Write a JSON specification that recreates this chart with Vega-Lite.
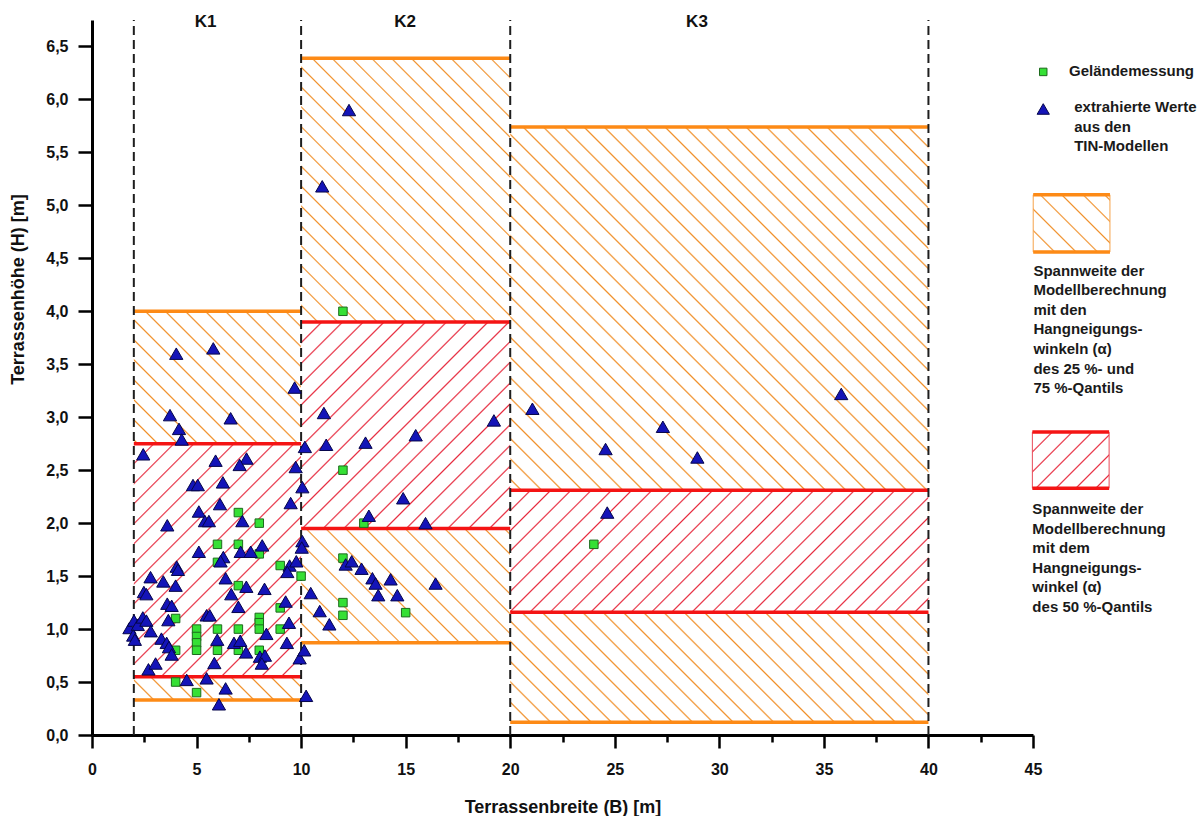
{
"$schema":"https://vega.github.io/schema/vega-lite/v6.json",
"width":941,"height":715,
"autosize":{"type":"none"},
"padding":{"left":92,"top":20,"right":170,"bottom":81},
"background":"white",
"config":{"view":{"stroke":null},"axis":{"grid":false}},
"datasets":{
"boxes":[
{"id":"K1o","col":"o","x":2,"x2":10,"y":0.33,"y2":4.0},
{"id":"K2o","col":"o","x":10,"x2":20,"y":0.87,"y2":6.39},
{"id":"K3o","col":"o","x":20,"x2":40,"y":0.12,"y2":5.74},
{"id":"K1r","col":"r","x":2,"x2":10,"y":0.55,"y2":2.75},
{"id":"K2r","col":"r","x":10,"x2":20,"y":1.95,"y2":3.9},
{"id":"K3r","col":"r","x":20,"x2":40,"y":1.16,"y2":2.31},
{"id":"Lo","col":"o","x":45.01,"x2":48.68,"y":4.56,"y2":5.1},
{"id":"Lr","col":"r","x":44.97,"x2":48.64,"y":2.33,"y2":2.86}
],
"bounds":[{"x":2},{"x":10},{"x":20},{"x":40}],
"klabels":[{"t":"K1","x":5.43},{"t":"K2","x":14.97},{"t":"K3","x":28.93}],
"pts":[
{"k":"s","x":7,"y":2.1},{"k":"s","x":8,"y":2.0},{"k":"s","x":6,"y":1.8},{"k":"s","x":7,"y":1.8},{"k":"s","x":8,"y":1.71},{"k":"s","x":6,"y":1.63},{"k":"s","x":9,"y":1.6},{"k":"s","x":10,"y":1.5},{"k":"s","x":7,"y":1.41},{"k":"s","x":9,"y":1.2},{"k":"s","x":4,"y":1.1},{"k":"s","x":4,"y":0.8},{"k":"s","x":4,"y":0.5},{"k":"s","x":5,"y":1.0},{"k":"s","x":5,"y":0.93},{"k":"s","x":5,"y":0.87},{"k":"s","x":5,"y":0.8},{"k":"s","x":5,"y":0.4},{"k":"s","x":6,"y":1.0},{"k":"s","x":6,"y":0.8},{"k":"s","x":7,"y":1.0},{"k":"s","x":7,"y":0.8},{"k":"s","x":8,"y":1.11},{"k":"s","x":8,"y":1.06},{"k":"s","x":8,"y":1.0},{"k":"s","x":8,"y":0.8},{"k":"s","x":9,"y":1.0},
{"k":"s","x":12,"y":4.0},{"k":"s","x":12,"y":2.5},{"k":"s","x":13,"y":2.0},{"k":"s","x":12,"y":1.67},{"k":"s","x":12,"y":1.25},{"k":"s","x":12,"y":1.13},{"k":"s","x":15,"y":1.155},{"k":"s","x":24,"y":1.8},
{"k":"t","x":4.03,"y":3.6},{"k":"t","x":5.8,"y":3.65},{"k":"t","x":9.69,"y":3.28},{"k":"t","x":3.73,"y":3.02},{"k":"t","x":6.63,"y":2.99},{"k":"t","x":4.16,"y":2.89},{"k":"t","x":4.29,"y":2.79},{"k":"t","x":10.18,"y":2.72},{"k":"t","x":2.45,"y":2.65},{"k":"t","x":5.91,"y":2.59},{"k":"t","x":7.39,"y":2.61},{"k":"t","x":7.06,"y":2.55},{"k":"t","x":9.74,"y":2.53},{"k":"t","x":10.06,"y":2.34},{"k":"t","x":6.26,"y":2.385},{"k":"t","x":4.83,"y":2.36},{"k":"t","x":5.06,"y":2.36},{"k":"t","x":6.12,"y":2.18},{"k":"t","x":9.5,"y":2.19},{"k":"t","x":5.11,"y":2.11},{"k":"t","x":5.4,"y":2.02},{"k":"t","x":5.59,"y":2.02},{"k":"t","x":7.19,"y":2.02},{"k":"t","x":3.6,"y":1.98},
{"k":"t","x":10.06,"y":1.83},{"k":"t","x":10.03,"y":1.77},{"k":"t","x":8.14,"y":1.79},{"k":"t","x":5.11,"y":1.73},{"k":"t","x":6.28,"y":1.68},{"k":"t","x":7.11,"y":1.73},{"k":"t","x":7.59,"y":1.73},{"k":"t","x":6.15,"y":1.64},{"k":"t","x":4.05,"y":1.59},{"k":"t","x":4.11,"y":1.56},{"k":"t","x":9.45,"y":1.6},{"k":"t","x":9.34,"y":1.54},{"k":"t","x":9.77,"y":1.64},{"k":"t","x":2.8,"y":1.49},{"k":"t","x":3.41,"y":1.45},{"k":"t","x":4.0,"y":1.41},{"k":"t","x":7.38,"y":1.4},{"k":"t","x":8.25,"y":1.38},{"k":"t","x":6.39,"y":1.48},{"k":"t","x":2.48,"y":1.35},{"k":"t","x":2.6,"y":1.33},{"k":"t","x":6.66,"y":1.33},{"k":"t","x":9.26,"y":1.26},{"k":"t","x":3.6,"y":1.24},{"k":"t","x":3.81,"y":1.22},{"k":"t","x":7.0,"y":1.21},{"k":"t","x":5.48,"y":1.13},{"k":"t","x":5.63,"y":1.13},
{"k":"t","x":1.79,"y":1.01},{"k":"t","x":2.01,"y":1.08},{"k":"t","x":2.19,"y":1.04},{"k":"t","x":2.43,"y":1.11},{"k":"t","x":2.6,"y":1.08},{"k":"t","x":2.81,"y":0.98},{"k":"t","x":1.97,"y":0.94},{"k":"t","x":2.05,"y":0.9},{"k":"t","x":2.7,"y":0.62},{"k":"t","x":3.04,"y":0.675},{"k":"t","x":3.32,"y":0.91},{"k":"t","x":3.57,"y":0.87},{"k":"t","x":3.68,"y":0.83},{"k":"t","x":3.81,"y":0.76},{"k":"t","x":3.65,"y":1.085},{"k":"t","x":4.53,"y":0.52},{"k":"t","x":5.48,"y":0.535},{"k":"t","x":5.99,"y":0.9},{"k":"t","x":5.85,"y":0.68},{"k":"t","x":6.07,"y":0.29},{"k":"t","x":6.39,"y":0.44},{"k":"t","x":6.79,"y":0.87},{"k":"t","x":7.09,"y":0.89},{"k":"t","x":7.37,"y":0.78},{"k":"t","x":8.03,"y":0.74},{"k":"t","x":8.27,"y":0.75},{"k":"t","x":8.12,"y":0.675},{"k":"t","x":8.34,"y":0.955},{"k":"t","x":9.42,"y":1.06},{"k":"t","x":9.32,"y":0.87},{"k":"t","x":9.93,"y":0.725},{"k":"t","x":10.15,"y":0.8},{"k":"t","x":10.24,"y":0.37},{"k":"t","x":10.46,"y":1.34},{"k":"t","x":10.89,"y":1.17},{"k":"t","x":11.35,"y":1.045},
{"k":"t","x":12.29,"y":5.9},{"k":"t","x":11.01,"y":5.18},{"k":"t","x":11.09,"y":3.04},{"k":"t","x":19.22,"y":2.97},{"k":"t","x":11.2,"y":2.74},{"k":"t","x":13.08,"y":2.76},{"k":"t","x":15.48,"y":2.83},{"k":"t","x":14.88,"y":2.235},{"k":"t","x":13.24,"y":2.07},{"k":"t","x":15.95,"y":2.0},{"k":"t","x":12.13,"y":1.61},{"k":"t","x":12.42,"y":1.64},{"k":"t","x":12.89,"y":1.57},{"k":"t","x":13.41,"y":1.48},{"k":"t","x":13.56,"y":1.43},{"k":"t","x":14.28,"y":1.47},{"k":"t","x":16.43,"y":1.43},{"k":"t","x":13.69,"y":1.32},{"k":"t","x":14.6,"y":1.32},
{"k":"t","x":21.06,"y":3.08},{"k":"t","x":35.83,"y":3.22},{"k":"t","x":27.3,"y":2.91},{"k":"t","x":24.56,"y":2.7},{"k":"t","x":28.95,"y":2.62},{"k":"t","x":24.64,"y":2.1}
],
"leg":[{"k":"s","x":45.49,"y":6.26},{"k":"t","x":45.49,"y":5.91}],
"legtext":[
{"x":46.72,"y":6.332,"t":"Geländemessung"},
{"x":46.97,"y":5.992,"t":"extrahierte Werte\naus den\nTIN-Modellen"},
{"x":45.02,"y":4.451,"t":"Spannweite der\nModellberechnung\nmit den\nHangneigungs-\nwinkeln (α)\ndes 25 %- und\n75 %-Qantils"},
{"x":44.97,"y":2.2,"t":"Spannweite der\nModellberechnung\nmit dem\nHangneigungs-\nwinkel (α)\ndes 50 %-Qantils"}
]
},
"layer":[
{"data":{"name":"boxes"},"transform":[{"filter":"datum.id=='K1o'"}],
"mark":{"type":"rect","fill":{"gradient":"linear","x1":0,"y1":1,"x2":0.519,"y2":-0.207,"stops":[
{"offset":0.033,"color":"#fff"},{"offset":0.036,"color":"#f0902a"},{"offset":0.039,"color":"#fff"},
{"offset":0.069,"color":"#fff"},{"offset":0.072,"color":"#f0902a"},{"offset":0.075,"color":"#fff"},
{"offset":0.105,"color":"#fff"},{"offset":0.108,"color":"#f0902a"},{"offset":0.111,"color":"#fff"},
{"offset":0.141,"color":"#fff"},{"offset":0.144,"color":"#f0902a"},{"offset":0.147,"color":"#fff"},
{"offset":0.177,"color":"#fff"},{"offset":0.18,"color":"#f0902a"},{"offset":0.183,"color":"#fff"},
{"offset":0.213,"color":"#fff"},{"offset":0.216,"color":"#f0902a"},{"offset":0.219,"color":"#fff"},
{"offset":0.249,"color":"#fff"},{"offset":0.252,"color":"#f0902a"},{"offset":0.255,"color":"#fff"},
{"offset":0.285,"color":"#fff"},{"offset":0.288,"color":"#f0902a"},{"offset":0.291,"color":"#fff"},
{"offset":0.321,"color":"#fff"},{"offset":0.324,"color":"#f0902a"},{"offset":0.327,"color":"#fff"},
{"offset":0.357,"color":"#fff"},{"offset":0.36,"color":"#f0902a"},{"offset":0.363,"color":"#fff"},
{"offset":0.393,"color":"#fff"},{"offset":0.396,"color":"#f0902a"},{"offset":0.399,"color":"#fff"},
{"offset":0.429,"color":"#fff"},{"offset":0.432,"color":"#f0902a"},{"offset":0.435,"color":"#fff"},
{"offset":0.465,"color":"#fff"},{"offset":0.468,"color":"#f0902a"},{"offset":0.471,"color":"#fff"},
{"offset":0.501,"color":"#fff"},{"offset":0.504,"color":"#f0902a"},{"offset":0.507,"color":"#fff"},
{"offset":0.537,"color":"#fff"},{"offset":0.54,"color":"#f0902a"},{"offset":0.543,"color":"#fff"},
{"offset":0.573,"color":"#fff"},{"offset":0.576,"color":"#f0902a"},{"offset":0.579,"color":"#fff"},
{"offset":0.609,"color":"#fff"},{"offset":0.612,"color":"#f0902a"},{"offset":0.615,"color":"#fff"},
{"offset":0.645,"color":"#fff"},{"offset":0.648,"color":"#f0902a"},{"offset":0.651,"color":"#fff"},
{"offset":0.681,"color":"#fff"},{"offset":0.684,"color":"#f0902a"},{"offset":0.687,"color":"#fff"},
{"offset":0.717,"color":"#fff"},{"offset":0.72,"color":"#f0902a"},{"offset":0.723,"color":"#fff"},
{"offset":0.753,"color":"#fff"},{"offset":0.756,"color":"#f0902a"},{"offset":0.759,"color":"#fff"},
{"offset":0.789,"color":"#fff"},{"offset":0.792,"color":"#f0902a"},{"offset":0.795,"color":"#fff"},
{"offset":0.825,"color":"#fff"},{"offset":0.828,"color":"#f0902a"},{"offset":0.831,"color":"#fff"},
{"offset":0.861,"color":"#fff"},{"offset":0.864,"color":"#f0902a"},{"offset":0.867,"color":"#fff"},
{"offset":0.897,"color":"#fff"},{"offset":0.9,"color":"#f0902a"},{"offset":0.903,"color":"#fff"},
{"offset":0.933,"color":"#fff"},{"offset":0.936,"color":"#f0902a"},{"offset":0.939,"color":"#fff"},
{"offset":0.969,"color":"#fff"},{"offset":0.972,"color":"#f0902a"},{"offset":0.975,"color":"#fff"}
]}},
"encoding":{
"x":{"field":"x","type":"quantitative","scale":{"domain":[0,45],"nice":false,"zero":false},
"axis":{"title":"Terrassenbreite (B) [m]","values":[0,2.5,5,7.5,10,12.5,15,17.5,20,22.5,25,27.5,30,32.5,35,37.5,40,42.5,45],
"labelExpr":"datum.value % 5 == 0 ? format(datum.value, 'd') : ''",
"tickSize":{"condition":{"test":"datum.value % 5 == 0","value":13},"value":7},
"grid":false,"domainColor":"#000","domainWidth":3,"tickColor":"#000","tickWidth":2.5,
"labelFont":"Liberation Sans","labelFontSize":16,"labelFontWeight":"bold","labelColor":"#111","labelPadding":13,"labelOverlap":false,"labelFlush":false,
"titleFont":"Liberation Sans","titleFontSize":18,"titleFontWeight":"bold","titleColor":"#111","titleY":72,"titleBaseline":"middle"}},
"x2":{"field":"x2"},
"y":{"field":"y","type":"quantitative","scale":{"domain":[0,6.75],"nice":false,"zero":false},
"axis":{"title":"Terrassenhöhe (H) [m]","values":[0,0.25,0.5,0.75,1,1.25,1.5,1.75,2,2.25,2.5,2.75,3,3.25,3.5,3.75,4,4.25,4.5,4.75,5,5.25,5.5,5.75,6,6.25,6.5,6.75],
"labelExpr":"datum.value % 0.5 == 0 ? replace(format(datum.value, '.1f'), '.', ',') : ''",
"tickSize":{"condition":{"test":"datum.value % 0.5 == 0","value":14},"value":8},
"grid":false,"domainColor":"#000","domainWidth":3,"tickColor":"#000","tickWidth":2.5,
"labelFont":"Liberation Sans","labelFontSize":16,"labelFontWeight":"bold","labelColor":"#111","labelPadding":10,"labelOverlap":false,"labelFlush":false,
"titleFont":"Liberation Sans","titleFontSize":18,"titleFontWeight":"bold","titleColor":"#111","titleAngle":270,"titleX":-74,"titleY":269,"titleAlign":"center","titleBaseline":"middle"}},
"y2":{"field":"y2"}}},

{"data":{"name":"boxes"},"transform":[{"filter":"datum.id=='K2o'"}],
"mark":{"type":"rect","fill":{"gradient":"linear","x1":0,"y1":1,"x2":0.431,"y2":-0.204,"stops":[
{"offset":0.023,"color":"#fff"},{"offset":0.025,"color":"#f0902a"},{"offset":0.027,"color":"#fff"},
{"offset":0.048,"color":"#fff"},{"offset":0.05,"color":"#f0902a"},{"offset":0.052,"color":"#fff"},
{"offset":0.073,"color":"#fff"},{"offset":0.075,"color":"#f0902a"},{"offset":0.077,"color":"#fff"},
{"offset":0.098,"color":"#fff"},{"offset":0.1,"color":"#f0902a"},{"offset":0.102,"color":"#fff"},
{"offset":0.123,"color":"#fff"},{"offset":0.125,"color":"#f0902a"},{"offset":0.127,"color":"#fff"},
{"offset":0.148,"color":"#fff"},{"offset":0.15,"color":"#f0902a"},{"offset":0.152,"color":"#fff"},
{"offset":0.173,"color":"#fff"},{"offset":0.175,"color":"#f0902a"},{"offset":0.177,"color":"#fff"},
{"offset":0.198,"color":"#fff"},{"offset":0.2,"color":"#f0902a"},{"offset":0.202,"color":"#fff"},
{"offset":0.223,"color":"#fff"},{"offset":0.225,"color":"#f0902a"},{"offset":0.227,"color":"#fff"},
{"offset":0.248,"color":"#fff"},{"offset":0.25,"color":"#f0902a"},{"offset":0.252,"color":"#fff"},
{"offset":0.273,"color":"#fff"},{"offset":0.275,"color":"#f0902a"},{"offset":0.277,"color":"#fff"},
{"offset":0.298,"color":"#fff"},{"offset":0.3,"color":"#f0902a"},{"offset":0.302,"color":"#fff"},
{"offset":0.323,"color":"#fff"},{"offset":0.325,"color":"#f0902a"},{"offset":0.327,"color":"#fff"},
{"offset":0.348,"color":"#fff"},{"offset":0.35,"color":"#f0902a"},{"offset":0.352,"color":"#fff"},
{"offset":0.373,"color":"#fff"},{"offset":0.375,"color":"#f0902a"},{"offset":0.377,"color":"#fff"},
{"offset":0.398,"color":"#fff"},{"offset":0.4,"color":"#f0902a"},{"offset":0.402,"color":"#fff"},
{"offset":0.423,"color":"#fff"},{"offset":0.425,"color":"#f0902a"},{"offset":0.427,"color":"#fff"},
{"offset":0.448,"color":"#fff"},{"offset":0.45,"color":"#f0902a"},{"offset":0.452,"color":"#fff"},
{"offset":0.473,"color":"#fff"},{"offset":0.475,"color":"#f0902a"},{"offset":0.477,"color":"#fff"},
{"offset":0.498,"color":"#fff"},{"offset":0.5,"color":"#f0902a"},{"offset":0.502,"color":"#fff"},
{"offset":0.523,"color":"#fff"},{"offset":0.525,"color":"#f0902a"},{"offset":0.527,"color":"#fff"},
{"offset":0.548,"color":"#fff"},{"offset":0.55,"color":"#f0902a"},{"offset":0.552,"color":"#fff"},
{"offset":0.573,"color":"#fff"},{"offset":0.575,"color":"#f0902a"},{"offset":0.577,"color":"#fff"},
{"offset":0.598,"color":"#fff"},{"offset":0.6,"color":"#f0902a"},{"offset":0.602,"color":"#fff"},
{"offset":0.623,"color":"#fff"},{"offset":0.625,"color":"#f0902a"},{"offset":0.627,"color":"#fff"},
{"offset":0.648,"color":"#fff"},{"offset":0.65,"color":"#f0902a"},{"offset":0.652,"color":"#fff"},
{"offset":0.673,"color":"#fff"},{"offset":0.675,"color":"#f0902a"},{"offset":0.677,"color":"#fff"},
{"offset":0.698,"color":"#fff"},{"offset":0.7,"color":"#f0902a"},{"offset":0.702,"color":"#fff"},
{"offset":0.723,"color":"#fff"},{"offset":0.725,"color":"#f0902a"},{"offset":0.727,"color":"#fff"},
{"offset":0.748,"color":"#fff"},{"offset":0.75,"color":"#f0902a"},{"offset":0.752,"color":"#fff"},
{"offset":0.773,"color":"#fff"},{"offset":0.775,"color":"#f0902a"},{"offset":0.777,"color":"#fff"},
{"offset":0.798,"color":"#fff"},{"offset":0.8,"color":"#f0902a"},{"offset":0.802,"color":"#fff"},
{"offset":0.823,"color":"#fff"},{"offset":0.825,"color":"#f0902a"},{"offset":0.827,"color":"#fff"},
{"offset":0.848,"color":"#fff"},{"offset":0.85,"color":"#f0902a"},{"offset":0.852,"color":"#fff"},
{"offset":0.873,"color":"#fff"},{"offset":0.875,"color":"#f0902a"},{"offset":0.877,"color":"#fff"},
{"offset":0.898,"color":"#fff"},{"offset":0.9,"color":"#f0902a"},{"offset":0.902,"color":"#fff"},
{"offset":0.923,"color":"#fff"},{"offset":0.925,"color":"#f0902a"},{"offset":0.927,"color":"#fff"},
{"offset":0.948,"color":"#fff"},{"offset":0.95,"color":"#f0902a"},{"offset":0.952,"color":"#fff"},
{"offset":0.973,"color":"#fff"},{"offset":0.975,"color":"#f0902a"},{"offset":0.977,"color":"#fff"}
]}},
"encoding":{"x":{"field":"x","type":"quantitative","scale":{"domain":[0,45],"nice":false,"zero":false}},"x2":{"field":"x2"},"y":{"field":"y","type":"quantitative","scale":{"domain":[0,6.75],"nice":false,"zero":false}},"y2":{"field":"y2"}}},

{"data":{"name":"boxes"},"transform":[{"filter":"datum.id=='K3o'"}],
"mark":{"type":"rect","fill":{"gradient":"linear","x1":0,"y1":1,"x2":0.801,"y2":-0.14,"stops":[
{"offset":0.0183,"color":"#fff"},{"offset":0.02,"color":"#f0902a"},{"offset":0.0217,"color":"#fff"},
{"offset":0.0383,"color":"#fff"},{"offset":0.04,"color":"#f0902a"},{"offset":0.0417,"color":"#fff"},
{"offset":0.0583,"color":"#fff"},{"offset":0.06,"color":"#f0902a"},{"offset":0.0617,"color":"#fff"},
{"offset":0.0783,"color":"#fff"},{"offset":0.08,"color":"#f0902a"},{"offset":0.0817,"color":"#fff"},
{"offset":0.0983,"color":"#fff"},{"offset":0.1,"color":"#f0902a"},{"offset":0.1017,"color":"#fff"},
{"offset":0.1183,"color":"#fff"},{"offset":0.12,"color":"#f0902a"},{"offset":0.1217,"color":"#fff"},
{"offset":0.1383,"color":"#fff"},{"offset":0.14,"color":"#f0902a"},{"offset":0.1417,"color":"#fff"},
{"offset":0.1583,"color":"#fff"},{"offset":0.16,"color":"#f0902a"},{"offset":0.1617,"color":"#fff"},
{"offset":0.1783,"color":"#fff"},{"offset":0.18,"color":"#f0902a"},{"offset":0.1817,"color":"#fff"},
{"offset":0.1983,"color":"#fff"},{"offset":0.2,"color":"#f0902a"},{"offset":0.2017,"color":"#fff"},
{"offset":0.2183,"color":"#fff"},{"offset":0.22,"color":"#f0902a"},{"offset":0.2217,"color":"#fff"},
{"offset":0.2383,"color":"#fff"},{"offset":0.24,"color":"#f0902a"},{"offset":0.2417,"color":"#fff"},
{"offset":0.2583,"color":"#fff"},{"offset":0.26,"color":"#f0902a"},{"offset":0.2617,"color":"#fff"},
{"offset":0.2783,"color":"#fff"},{"offset":0.28,"color":"#f0902a"},{"offset":0.2817,"color":"#fff"},
{"offset":0.2983,"color":"#fff"},{"offset":0.3,"color":"#f0902a"},{"offset":0.3017,"color":"#fff"},
{"offset":0.3183,"color":"#fff"},{"offset":0.32,"color":"#f0902a"},{"offset":0.3217,"color":"#fff"},
{"offset":0.3383,"color":"#fff"},{"offset":0.34,"color":"#f0902a"},{"offset":0.3417,"color":"#fff"},
{"offset":0.3583,"color":"#fff"},{"offset":0.36,"color":"#f0902a"},{"offset":0.3617,"color":"#fff"},
{"offset":0.3783,"color":"#fff"},{"offset":0.38,"color":"#f0902a"},{"offset":0.3817,"color":"#fff"},
{"offset":0.3983,"color":"#fff"},{"offset":0.4,"color":"#f0902a"},{"offset":0.4017,"color":"#fff"},
{"offset":0.4183,"color":"#fff"},{"offset":0.42,"color":"#f0902a"},{"offset":0.4217,"color":"#fff"},
{"offset":0.4383,"color":"#fff"},{"offset":0.44,"color":"#f0902a"},{"offset":0.4417,"color":"#fff"},
{"offset":0.4583,"color":"#fff"},{"offset":0.46,"color":"#f0902a"},{"offset":0.4617,"color":"#fff"},
{"offset":0.4783,"color":"#fff"},{"offset":0.48,"color":"#f0902a"},{"offset":0.4817,"color":"#fff"},
{"offset":0.4983,"color":"#fff"},{"offset":0.5,"color":"#f0902a"},{"offset":0.5017,"color":"#fff"},
{"offset":0.5183,"color":"#fff"},{"offset":0.52,"color":"#f0902a"},{"offset":0.5217,"color":"#fff"},
{"offset":0.5383,"color":"#fff"},{"offset":0.54,"color":"#f0902a"},{"offset":0.5417,"color":"#fff"},
{"offset":0.5583,"color":"#fff"},{"offset":0.56,"color":"#f0902a"},{"offset":0.5617,"color":"#fff"},
{"offset":0.5783,"color":"#fff"},{"offset":0.58,"color":"#f0902a"},{"offset":0.5817,"color":"#fff"},
{"offset":0.5983,"color":"#fff"},{"offset":0.6,"color":"#f0902a"},{"offset":0.6017,"color":"#fff"},
{"offset":0.6183,"color":"#fff"},{"offset":0.62,"color":"#f0902a"},{"offset":0.6217,"color":"#fff"},
{"offset":0.6383,"color":"#fff"},{"offset":0.64,"color":"#f0902a"},{"offset":0.6417,"color":"#fff"},
{"offset":0.6583,"color":"#fff"},{"offset":0.66,"color":"#f0902a"},{"offset":0.6617,"color":"#fff"},
{"offset":0.6783,"color":"#fff"},{"offset":0.68,"color":"#f0902a"},{"offset":0.6817,"color":"#fff"},
{"offset":0.6983,"color":"#fff"},{"offset":0.7,"color":"#f0902a"},{"offset":0.7017,"color":"#fff"},
{"offset":0.7183,"color":"#fff"},{"offset":0.72,"color":"#f0902a"},{"offset":0.7217,"color":"#fff"},
{"offset":0.7383,"color":"#fff"},{"offset":0.74,"color":"#f0902a"},{"offset":0.7417,"color":"#fff"},
{"offset":0.7583,"color":"#fff"},{"offset":0.76,"color":"#f0902a"},{"offset":0.7617,"color":"#fff"},
{"offset":0.7783,"color":"#fff"},{"offset":0.78,"color":"#f0902a"},{"offset":0.7817,"color":"#fff"},
{"offset":0.7983,"color":"#fff"},{"offset":0.8,"color":"#f0902a"},{"offset":0.8017,"color":"#fff"},
{"offset":0.8183,"color":"#fff"},{"offset":0.82,"color":"#f0902a"},{"offset":0.8217,"color":"#fff"},
{"offset":0.8383,"color":"#fff"},{"offset":0.84,"color":"#f0902a"},{"offset":0.8417,"color":"#fff"},
{"offset":0.8583,"color":"#fff"},{"offset":0.86,"color":"#f0902a"},{"offset":0.8617,"color":"#fff"},
{"offset":0.8783,"color":"#fff"},{"offset":0.88,"color":"#f0902a"},{"offset":0.8817,"color":"#fff"},
{"offset":0.8983,"color":"#fff"},{"offset":0.9,"color":"#f0902a"},{"offset":0.9017,"color":"#fff"},
{"offset":0.9183,"color":"#fff"},{"offset":0.92,"color":"#f0902a"},{"offset":0.9217,"color":"#fff"},
{"offset":0.9383,"color":"#fff"},{"offset":0.94,"color":"#f0902a"},{"offset":0.9417,"color":"#fff"},
{"offset":0.9583,"color":"#fff"},{"offset":0.96,"color":"#f0902a"},{"offset":0.9617,"color":"#fff"},
{"offset":0.9783,"color":"#fff"},{"offset":0.98,"color":"#f0902a"},{"offset":0.9817,"color":"#fff"}
]}},
"encoding":{"x":{"field":"x","type":"quantitative","scale":{"domain":[0,45],"nice":false,"zero":false}},"x2":{"field":"x2"},"y":{"field":"y","type":"quantitative","scale":{"domain":[0,6.75],"nice":false,"zero":false}},"y2":{"field":"y2"}}},

{"data":{"name":"boxes"},"transform":[{"filter":"datum.id=='K1r'"}],
"mark":{"type":"rect","fill":{"gradient":"linear","x1":0,"y1":0,"x2":0.814,"y2":1.134,"stops":[
{"offset":0.046,"color":"#fff"},{"offset":0.05,"color":"#e62a3e"},{"offset":0.054,"color":"#fff"},
{"offset":0.096,"color":"#fff"},{"offset":0.1,"color":"#e62a3e"},{"offset":0.104,"color":"#fff"},
{"offset":0.146,"color":"#fff"},{"offset":0.15,"color":"#e62a3e"},{"offset":0.154,"color":"#fff"},
{"offset":0.196,"color":"#fff"},{"offset":0.2,"color":"#e62a3e"},{"offset":0.204,"color":"#fff"},
{"offset":0.246,"color":"#fff"},{"offset":0.25,"color":"#e62a3e"},{"offset":0.254,"color":"#fff"},
{"offset":0.296,"color":"#fff"},{"offset":0.3,"color":"#e62a3e"},{"offset":0.304,"color":"#fff"},
{"offset":0.346,"color":"#fff"},{"offset":0.35,"color":"#e62a3e"},{"offset":0.354,"color":"#fff"},
{"offset":0.396,"color":"#fff"},{"offset":0.4,"color":"#e62a3e"},{"offset":0.404,"color":"#fff"},
{"offset":0.446,"color":"#fff"},{"offset":0.45,"color":"#e62a3e"},{"offset":0.454,"color":"#fff"},
{"offset":0.496,"color":"#fff"},{"offset":0.5,"color":"#e62a3e"},{"offset":0.504,"color":"#fff"},
{"offset":0.546,"color":"#fff"},{"offset":0.55,"color":"#e62a3e"},{"offset":0.554,"color":"#fff"},
{"offset":0.596,"color":"#fff"},{"offset":0.6,"color":"#e62a3e"},{"offset":0.604,"color":"#fff"},
{"offset":0.646,"color":"#fff"},{"offset":0.65,"color":"#e62a3e"},{"offset":0.654,"color":"#fff"},
{"offset":0.696,"color":"#fff"},{"offset":0.7,"color":"#e62a3e"},{"offset":0.704,"color":"#fff"},
{"offset":0.746,"color":"#fff"},{"offset":0.75,"color":"#e62a3e"},{"offset":0.754,"color":"#fff"},
{"offset":0.796,"color":"#fff"},{"offset":0.8,"color":"#e62a3e"},{"offset":0.804,"color":"#fff"},
{"offset":0.846,"color":"#fff"},{"offset":0.85,"color":"#e62a3e"},{"offset":0.854,"color":"#fff"},
{"offset":0.896,"color":"#fff"},{"offset":0.9,"color":"#e62a3e"},{"offset":0.904,"color":"#fff"},
{"offset":0.946,"color":"#fff"},{"offset":0.95,"color":"#e62a3e"},{"offset":0.954,"color":"#fff"}
]}},
"encoding":{"x":{"field":"x","type":"quantitative","scale":{"domain":[0,45],"nice":false,"zero":false}},"x2":{"field":"x2"},"y":{"field":"y","type":"quantitative","scale":{"domain":[0,6.75],"nice":false,"zero":false}},"y2":{"field":"y2"}}},

{"data":{"name":"boxes"},"transform":[{"filter":"datum.id=='K2r'"}],
"mark":{"type":"rect","fill":{"gradient":"linear","x1":0,"y1":0,"x2":1.006,"y2":0.994,"stops":[
{"offset":0.046,"color":"#fff"},{"offset":0.05,"color":"#e62a3e"},{"offset":0.054,"color":"#fff"},
{"offset":0.096,"color":"#fff"},{"offset":0.1,"color":"#e62a3e"},{"offset":0.104,"color":"#fff"},
{"offset":0.146,"color":"#fff"},{"offset":0.15,"color":"#e62a3e"},{"offset":0.154,"color":"#fff"},
{"offset":0.196,"color":"#fff"},{"offset":0.2,"color":"#e62a3e"},{"offset":0.204,"color":"#fff"},
{"offset":0.246,"color":"#fff"},{"offset":0.25,"color":"#e62a3e"},{"offset":0.254,"color":"#fff"},
{"offset":0.296,"color":"#fff"},{"offset":0.3,"color":"#e62a3e"},{"offset":0.304,"color":"#fff"},
{"offset":0.346,"color":"#fff"},{"offset":0.35,"color":"#e62a3e"},{"offset":0.354,"color":"#fff"},
{"offset":0.396,"color":"#fff"},{"offset":0.4,"color":"#e62a3e"},{"offset":0.404,"color":"#fff"},
{"offset":0.446,"color":"#fff"},{"offset":0.45,"color":"#e62a3e"},{"offset":0.454,"color":"#fff"},
{"offset":0.496,"color":"#fff"},{"offset":0.5,"color":"#e62a3e"},{"offset":0.504,"color":"#fff"},
{"offset":0.546,"color":"#fff"},{"offset":0.55,"color":"#e62a3e"},{"offset":0.554,"color":"#fff"},
{"offset":0.596,"color":"#fff"},{"offset":0.6,"color":"#e62a3e"},{"offset":0.604,"color":"#fff"},
{"offset":0.646,"color":"#fff"},{"offset":0.65,"color":"#e62a3e"},{"offset":0.654,"color":"#fff"},
{"offset":0.696,"color":"#fff"},{"offset":0.7,"color":"#e62a3e"},{"offset":0.704,"color":"#fff"},
{"offset":0.746,"color":"#fff"},{"offset":0.75,"color":"#e62a3e"},{"offset":0.754,"color":"#fff"},
{"offset":0.796,"color":"#fff"},{"offset":0.8,"color":"#e62a3e"},{"offset":0.804,"color":"#fff"},
{"offset":0.846,"color":"#fff"},{"offset":0.85,"color":"#e62a3e"},{"offset":0.854,"color":"#fff"},
{"offset":0.896,"color":"#fff"},{"offset":0.9,"color":"#e62a3e"},{"offset":0.904,"color":"#fff"},
{"offset":0.946,"color":"#fff"},{"offset":0.95,"color":"#e62a3e"},{"offset":0.954,"color":"#fff"}
]}},
"encoding":{"x":{"field":"x","type":"quantitative","scale":{"domain":[0,45],"nice":false,"zero":false}},"x2":{"field":"x2"},"y":{"field":"y","type":"quantitative","scale":{"domain":[0,6.75],"nice":false,"zero":false}},"y2":{"field":"y2"}}},

{"data":{"name":"boxes"},"transform":[{"filter":"datum.id=='K3r'"}],
"mark":{"type":"rect","fill":{"gradient":"linear","x1":0,"y1":0,"x2":1.19,"y2":0.347,"stops":[
{"offset":0.0345,"color":"#fff"},{"offset":0.0375,"color":"#e62a3e"},{"offset":0.0405,"color":"#fff"},
{"offset":0.072,"color":"#fff"},{"offset":0.075,"color":"#e62a3e"},{"offset":0.078,"color":"#fff"},
{"offset":0.1095,"color":"#fff"},{"offset":0.1125,"color":"#e62a3e"},{"offset":0.1155,"color":"#fff"},
{"offset":0.147,"color":"#fff"},{"offset":0.15,"color":"#e62a3e"},{"offset":0.153,"color":"#fff"},
{"offset":0.1845,"color":"#fff"},{"offset":0.1875,"color":"#e62a3e"},{"offset":0.1905,"color":"#fff"},
{"offset":0.222,"color":"#fff"},{"offset":0.225,"color":"#e62a3e"},{"offset":0.228,"color":"#fff"},
{"offset":0.2595,"color":"#fff"},{"offset":0.2625,"color":"#e62a3e"},{"offset":0.2655,"color":"#fff"},
{"offset":0.297,"color":"#fff"},{"offset":0.3,"color":"#e62a3e"},{"offset":0.303,"color":"#fff"},
{"offset":0.3345,"color":"#fff"},{"offset":0.3375,"color":"#e62a3e"},{"offset":0.3405,"color":"#fff"},
{"offset":0.372,"color":"#fff"},{"offset":0.375,"color":"#e62a3e"},{"offset":0.378,"color":"#fff"},
{"offset":0.4095,"color":"#fff"},{"offset":0.4125,"color":"#e62a3e"},{"offset":0.4155,"color":"#fff"},
{"offset":0.447,"color":"#fff"},{"offset":0.45,"color":"#e62a3e"},{"offset":0.453,"color":"#fff"},
{"offset":0.4845,"color":"#fff"},{"offset":0.4875,"color":"#e62a3e"},{"offset":0.4905,"color":"#fff"},
{"offset":0.522,"color":"#fff"},{"offset":0.525,"color":"#e62a3e"},{"offset":0.528,"color":"#fff"},
{"offset":0.5595,"color":"#fff"},{"offset":0.5625,"color":"#e62a3e"},{"offset":0.5655,"color":"#fff"},
{"offset":0.597,"color":"#fff"},{"offset":0.6,"color":"#e62a3e"},{"offset":0.603,"color":"#fff"},
{"offset":0.6345,"color":"#fff"},{"offset":0.6375,"color":"#e62a3e"},{"offset":0.6405,"color":"#fff"},
{"offset":0.672,"color":"#fff"},{"offset":0.675,"color":"#e62a3e"},{"offset":0.678,"color":"#fff"},
{"offset":0.7095,"color":"#fff"},{"offset":0.7125,"color":"#e62a3e"},{"offset":0.7155,"color":"#fff"},
{"offset":0.747,"color":"#fff"},{"offset":0.75,"color":"#e62a3e"},{"offset":0.753,"color":"#fff"},
{"offset":0.7845,"color":"#fff"},{"offset":0.7875,"color":"#e62a3e"},{"offset":0.7905,"color":"#fff"},
{"offset":0.822,"color":"#fff"},{"offset":0.825,"color":"#e62a3e"},{"offset":0.828,"color":"#fff"},
{"offset":0.8595,"color":"#fff"},{"offset":0.8625,"color":"#e62a3e"},{"offset":0.8655,"color":"#fff"},
{"offset":0.897,"color":"#fff"},{"offset":0.9,"color":"#e62a3e"},{"offset":0.903,"color":"#fff"},
{"offset":0.9345,"color":"#fff"},{"offset":0.9375,"color":"#e62a3e"},{"offset":0.9405,"color":"#fff"},
{"offset":0.972,"color":"#fff"},{"offset":0.975,"color":"#e62a3e"},{"offset":0.978,"color":"#fff"}
]}},
"encoding":{"x":{"field":"x","type":"quantitative","scale":{"domain":[0,45],"nice":false,"zero":false}},"x2":{"field":"x2"},"y":{"field":"y","type":"quantitative","scale":{"domain":[0,6.75],"nice":false,"zero":false}},"y2":{"field":"y2"}}},

{"data":{"name":"boxes"},"transform":[{"filter":"datum.id=='Lo'"}],
"mark":{"type":"rect","stroke":"#f5a24a","strokeWidth":1,"fill":{"gradient":"linear","x1":0,"y1":1,"x2":1.122,"y2":0.163,"stops":[
{"offset":0.148,"color":"#fff"},{"offset":0.16,"color":"#f0902a"},{"offset":0.172,"color":"#fff"},
{"offset":0.308,"color":"#fff"},{"offset":0.32,"color":"#f0902a"},{"offset":0.332,"color":"#fff"},
{"offset":0.468,"color":"#fff"},{"offset":0.48,"color":"#f0902a"},{"offset":0.492,"color":"#fff"},
{"offset":0.628,"color":"#fff"},{"offset":0.64,"color":"#f0902a"},{"offset":0.652,"color":"#fff"},
{"offset":0.788,"color":"#fff"},{"offset":0.8,"color":"#f0902a"},{"offset":0.812,"color":"#fff"},
{"offset":0.948,"color":"#fff"},{"offset":0.96,"color":"#f0902a"},{"offset":0.972,"color":"#fff"}
]}},
"encoding":{"x":{"field":"x","type":"quantitative","scale":{"domain":[0,45],"nice":false,"zero":false}},"x2":{"field":"x2"},"y":{"field":"y","type":"quantitative","scale":{"domain":[0,6.75],"nice":false,"zero":false}},"y2":{"field":"y2"}}},

{"data":{"name":"boxes"},"transform":[{"filter":"datum.id=='Lr'"}],
"mark":{"type":"rect","stroke":"#e84a58","strokeWidth":1,"fill":{"gradient":"linear","x1":0,"y1":0,"x2":1.128,"y2":0.825,"stops":[
{"offset":0.138,"color":"#fff"},{"offset":0.15,"color":"#e62a3e"},{"offset":0.162,"color":"#fff"},
{"offset":0.288,"color":"#fff"},{"offset":0.3,"color":"#e62a3e"},{"offset":0.312,"color":"#fff"},
{"offset":0.438,"color":"#fff"},{"offset":0.45,"color":"#e62a3e"},{"offset":0.462,"color":"#fff"},
{"offset":0.588,"color":"#fff"},{"offset":0.6,"color":"#e62a3e"},{"offset":0.612,"color":"#fff"},
{"offset":0.738,"color":"#fff"},{"offset":0.75,"color":"#e62a3e"},{"offset":0.762,"color":"#fff"},
{"offset":0.888,"color":"#fff"},{"offset":0.9,"color":"#e62a3e"},{"offset":0.912,"color":"#fff"}
]}},
"encoding":{"x":{"field":"x","type":"quantitative","scale":{"domain":[0,45],"nice":false,"zero":false}},"x2":{"field":"x2"},"y":{"field":"y","type":"quantitative","scale":{"domain":[0,6.75],"nice":false,"zero":false}},"y2":{"field":"y2"}}},

{"data":{"name":"boxes"},"transform":[{"fold":["y","y2"],"as":["edge","yv"]}],
"mark":{"type":"rule","strokeWidth":3.5},
"encoding":{"x":{"field":"x","type":"quantitative","scale":{"domain":[0,45],"nice":false,"zero":false}},"x2":{"field":"x2"},"y":{"field":"yv","type":"quantitative","scale":{"domain":[0,6.75],"nice":false,"zero":false}},
"color":{"field":"col","type":"nominal","scale":{"domain":["o","r"],"range":["#fd8a16","#f41414"]},"legend":null}}},

{"data":{"name":"bounds"},
"mark":{"type":"rule","strokeWidth":2,"strokeDash":[9,5],"color":"#1e1e1e"},
"encoding":{"x":{"field":"x","type":"quantitative","scale":{"domain":[0,45],"nice":false,"zero":false}},"y":{"datum":0,"type":"quantitative","scale":{"domain":[0,6.75],"nice":false,"zero":false}},"y2":{"datum":6.75}}},

{"data":{"name":"pts"},"transform":[{"filter":"datum.k=='s'"}],
"mark":{"type":"point","shape":"square","filled":true,"size":72,"fill":"#35e035","stroke":"#1d6a1d","strokeWidth":1,"opacity":1},
"encoding":{"x":{"field":"x","type":"quantitative","scale":{"domain":[0,45],"nice":false,"zero":false}},"y":{"field":"y","type":"quantitative","scale":{"domain":[0,6.75],"nice":false,"zero":false}}}},

{"data":{"name":"pts"},"transform":[{"filter":"datum.k=='t'"}],
"mark":{"type":"point","shape":"triangle-up","filled":true,"size":175,"fill":"#1414b8","stroke":"#05054a","strokeWidth":1,"opacity":1},
"encoding":{"x":{"field":"x","type":"quantitative","scale":{"domain":[0,45],"nice":false,"zero":false}},"y":{"field":"y","type":"quantitative","scale":{"domain":[0,6.75],"nice":false,"zero":false}}}},

{"data":{"name":"leg"},"transform":[{"filter":"datum.k=='s'"}],
"mark":{"type":"point","shape":"square","filled":true,"size":56,"fill":"#35e035","stroke":"#1d6a1d","strokeWidth":1,"opacity":1},
"encoding":{"x":{"field":"x","type":"quantitative","scale":{"domain":[0,45],"nice":false,"zero":false}},"y":{"field":"y","type":"quantitative","scale":{"domain":[0,6.75],"nice":false,"zero":false}}}},

{"data":{"name":"leg"},"transform":[{"filter":"datum.k=='t'"}],
"mark":{"type":"point","shape":"triangle-up","filled":true,"size":150,"fill":"#1414b8","stroke":"#05054a","strokeWidth":1,"opacity":1},
"encoding":{"x":{"field":"x","type":"quantitative","scale":{"domain":[0,45],"nice":false,"zero":false}},"y":{"field":"y","type":"quantitative","scale":{"domain":[0,6.75],"nice":false,"zero":false}}}},

{"data":{"name":"klabels"},
"mark":{"type":"text","font":"Liberation Sans","fontSize":17,"fontWeight":"bold","color":"#111","align":"center","baseline":"middle"},
"encoding":{"x":{"field":"x","type":"quantitative","scale":{"domain":[0,45],"nice":false,"zero":false}},"y":{"datum":6.73,"type":"quantitative","scale":{"domain":[0,6.75],"nice":false,"zero":false}},"text":{"field":"t"}}},

{"data":{"name":"legtext"},
"mark":{"type":"text","font":"Liberation Sans","fontSize":15,"fontWeight":"bold","color":"#1a1a1a","align":"left","baseline":"top","lineBreak":"\n","lineHeight":19.6},
"encoding":{"x":{"field":"x","type":"quantitative","scale":{"domain":[0,45],"nice":false,"zero":false}},"y":{"field":"y","type":"quantitative","scale":{"domain":[0,6.75],"nice":false,"zero":false}},"text":{"field":"t"}}}
]
}
